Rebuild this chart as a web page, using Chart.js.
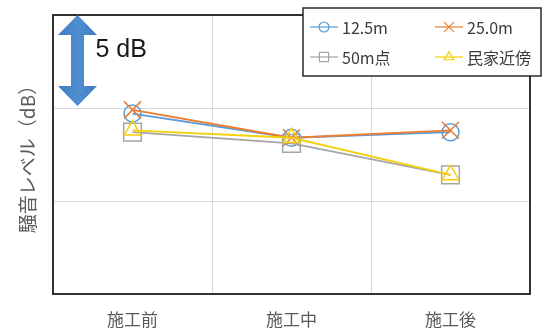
<!DOCTYPE html>
<html>
<head>
<meta charset="utf-8">
<script src="https://cdn.jsdelivr.net/npm/chart.js@4/dist/chart.umd.min.js"></script>
<style>
  html, body { margin: 0; padding: 0; background: #ffffff; }
  #wrap { width: 547px; height: 329px; }
</style>
</head>
<body>
<div id="wrap"><canvas id="c" width="547" height="329"></canvas></div>
<script>
// Measurement periods
const periods = ['施工前', '施工中', '施工後'];

// Noise level (dB) at each measurement point
const level125m = [54.7, 53.4, 53.7];
const level250m = [54.9, 53.4, 53.8];
const level50m = [53.7, 53.1, 51.4];
const levelHouse = [53.8, 53.4, 51.4];

// Series names
const seriesNames = ['12.5m', '25.0m', '50m点', '民家近傍'];

// Vertical range and the span marked by the scale arrow
const yMin = 45;
const yMax = 60;
const yStep = 5;
const scaleSpan = 5;
const scaleLabel = '5 dB';

const CJK = '"Noto Sans CJK JP", "Noto Sans", sans-serif';

// Full frame around the plotting area
const frameBox = {
  id: 'frameBox',
  afterDatasetsDraw(chart) {
    const { ctx, chartArea: a } = chart;
    ctx.save();
    ctx.strokeStyle = '#1e1e1e';
    ctx.lineWidth = 1.8;
    ctx.strokeRect(a.left, a.top, a.right - a.left, a.bottom - a.top);
    ctx.restore();
  }
};

// Double-headed arrow showing a 5 dB span
const spanArrow = {
  id: 'spanArrow',
  afterDatasetsDraw(chart) {
    const { ctx, chartArea: a, scales: { y } } = chart;
    const top = y.getPixelForValue(yMax);
    const bot = y.getPixelForValue(yMax - scaleSpan) - 2;
    const cx = a.left + 24.5;
    const headW = 19.5, shaftW = 6.5, headH = 20;
    ctx.save();
    const g = ctx.createLinearGradient(cx - headW, 0, cx + headW, 0);
    g.addColorStop(0, '#3f7bbf');
    g.addColorStop(0.5, '#4f8fd0');
    g.addColorStop(1, '#3f7bbf');
    ctx.fillStyle = g;
    ctx.beginPath();
    ctx.moveTo(cx, top);
    ctx.lineTo(cx + headW, top + headH);
    ctx.lineTo(cx + shaftW, top + headH);
    ctx.lineTo(cx + shaftW, bot - headH);
    ctx.lineTo(cx + headW, bot - headH);
    ctx.lineTo(cx, bot);
    ctx.lineTo(cx - headW, bot - headH);
    ctx.lineTo(cx - shaftW, bot - headH);
    ctx.lineTo(cx - shaftW, top + headH);
    ctx.lineTo(cx - headW, top + headH);
    ctx.closePath();
    ctx.fill();
    ctx.fillStyle = '#1a1a1a';
    ctx.font = '25px "Liberation Sans", Arial, sans-serif';
    ctx.textAlign = 'left';
    ctx.textBaseline = 'middle';
    ctx.fillText(scaleLabel, cx + 18, top + 35);
    ctx.restore();
  }
};

// Boxed legend laid out in two columns over the top right of the plot
const boxLegend = {
  id: 'boxLegend',
  afterDraw(chart) {
    const { ctx } = chart;
    const bx = 303, by = 8, bw = 238, bh = 68;
    ctx.save();
    ctx.fillStyle = '#ffffff';
    ctx.fillRect(bx, by, bw, bh);
    ctx.strokeStyle = '#2a2a2a';
    ctx.lineWidth = 1.5;
    ctx.strokeRect(bx, by, bw, bh);
    const cols = [bx + 7, bx + 132];
    const rows = [by + 19, by + 49];
    chart.data.datasets.forEach((ds, i) => {
      const x0 = cols[i % 2];
      const yy = rows[Math.floor(i / 2)];
      ctx.strokeStyle = ds.borderColor;
      ctx.lineWidth = 1.2;
      ctx.beginPath();
      ctx.moveTo(x0, yy);
      ctx.lineTo(x0 + 28, yy);
      ctx.stroke();
      ctx.fillStyle = 'rgba(255,255,255,0)';
      ctx.strokeStyle = ds.borderColor;
      Chart.helpers.drawPoint(ctx, {
        pointStyle: ds.pointStyle,
        radius: ds.legendRadius,
        rotation: 0,
        borderWidth: 1.1
      }, x0 + 14, yy);
      ctx.fillStyle = '#3a3a3a';
      ctx.font = '16px ' + CJK;
      ctx.textAlign = 'left';
      ctx.textBaseline = 'middle';
      ctx.fillText(ds.label, x0 + 32, yy + 1);
    });
    ctx.restore();
  }
};

function series(label, data, color, style, radius, legendRadius, order) {
  return {
    label, data, order,
    borderColor: color,
    backgroundColor: color,
    borderWidth: 1.8,
    pointStyle: style,
    pointRadius: radius,
    pointHoverRadius: radius,
    pointBorderColor: color,
    pointBackgroundColor: 'rgba(255,255,255,0)',
    pointBorderWidth: 1.5,
    legendRadius,
    tension: 0,
    fill: false
  };
}

new Chart(document.getElementById('c'), {
  type: 'line',
  data: {
    labels: periods,
    datasets: [
      series(seriesNames[0], level125m, '#5b9bd5', 'circle', 8.5, 5, 4),
      series(seriesNames[1], level250m, '#ed7d31', 'crossRot', 12, 7, 3),
      series(seriesNames[2], level50m, '#a5a5a5', 'rect', 12.5, 6.5, 2),
      series(seriesNames[3], levelHouse, '#f5cf0a', 'triangle', 9.5, 5.5, 1)
    ]
  },
  options: {
    responsive: false,
    animation: false,
    layout: { padding: { left: 0, top: 15, right: 17, bottom: 0 } },
    plugins: {
      legend: { display: false },
      tooltip: { enabled: false }
    },
    scales: {
      x: {
        offset: true,
        grid: { offset: true, color: '#d9d9d9', lineWidth: 1, drawTicks: false },
        border: { display: false },
        ticks: { color: '#5a5a5a', padding: 15, font: { family: CJK, size: 17 } },
        afterFit(s) { s.height = 35; }
      },
      y: {
        min: yMin,
        max: yMax,
        grid: { color: '#d9d9d9', lineWidth: 1, drawTicks: false },
        border: { display: false },
        ticks: { display: false, stepSize: yStep },
        title: {
          display: true,
          text: '騒音レベル（dB）',
          color: '#5a5a5a',
          font: { family: CJK, size: 19 },
          padding: { top: 16, bottom: 0 }
        },
        afterFit(s) { s.width = 53; }
      }
    }
  },
  plugins: [frameBox, spanArrow, boxLegend]
});
</script>
</body>
</html>
